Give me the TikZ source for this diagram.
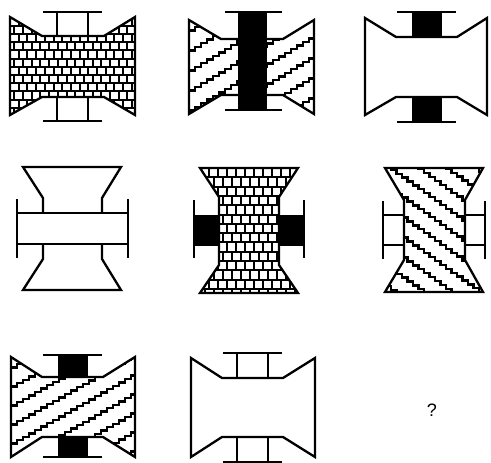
\documentclass[tikz,border=0pt]{standalone}
\usepackage{fontspec}
\setmainfont{Liberation Sans}
\tikzset{
  outline/.style={line width=2.3pt, line join=miter, miter limit=4},
  pat/.style={line width=2pt},
  spat/.style={line width=2.3pt, line join=miter},
  conn/.style={line width=2.3pt},
  blk/.style={fill=black},
}
% horizontal body: L,T,R,B,xl,xr,yt,yb
\newcommand\hclip[8]{\clip (#1,#2) -- (#5,#7) -- (#6,#7) -- (#3,#2) -- (#3,#4) -- (#6,#8) -- (#5,#8) -- (#1,#4) -- cycle;}
\newcommand\hdraw[8]{\draw[outline] (#1,#2) -- (#5,#7) -- (#6,#7) -- (#3,#2) -- (#3,#4) -- (#6,#8) -- (#5,#8) -- (#1,#4) -- cycle;}
% vertical body: L,T,R,B,xl,xr,yt,yb
\newcommand\vclip[8]{\clip (#1,#2) -- (#3,#2) -- (#6,#7) -- (#6,#8) -- (#3,#4) -- (#1,#4) -- (#5,#8) -- (#5,#7) -- cycle;}
\newcommand\vdraw[8]{\draw[outline] (#1,#2) -- (#3,#2) -- (#6,#7) -- (#6,#8) -- (#3,#4) -- (#1,#4) -- (#5,#8) -- (#5,#7) -- cycle;}
% bricks: x0,y0,px,py,nrows,ncols
\newcommand\bricks[6]{%
  \foreach \r in {0,...,#5}{%
    \draw[pat] (#1,{#2+\r*#4}) -- ++({(#6+1)*#3},0);
    \pgfmathsetmacro\off{mod(\r,2)*#3/2}
    \foreach \c in {-1,...,#6}{%
      \draw[pat] ({#1+\c*#3+\off},{#2+\r*#4}) -- ++(0,#4);
    }
  }%
}
% stairs: x0,y0,nlines,spacing,nsteps,h,v
\newcommand\stairs[7]{%
  \foreach \i in {0,...,#3}{%
    \draw[spat] (#1,{#2+\i*#4}) \foreach \k in {1,...,#5}{ -- ++(#6,0) -- ++(0,#7) };
  }%
}
\begin{document}
\begin{tikzpicture}[x=1pt,y=-1pt]
\useasboundingbox[fill=white] (0,0) rectangle (491,463);

% ---------- Panel 1: horizontal, bricks, white connectors
\begin{scope}
  \hclip{10}{17}{135}{115}{42}{104}{36}{97}
  \bricks{10}{17.5}{8.7}{8.2}{12}{15}
\end{scope}
\hdraw{10}{17}{135}{115}{42}{104}{36}{97}
\draw[conn] (43,12) -- (102,12);
\draw[conn] (57,12) -- (57,36) (88,12) -- (88,36);
\draw[conn] (43,121) -- (102,121);
\draw[conn] (57,97) -- (57,121) (88,97) -- (88,121);

% ---------- Panel 2: horizontal, stairs up, black bar through
\begin{scope}
  \hclip{189}{20}{314}{114}{221}{283}{39}{95}
  \stairs{183}{14}{10}{20}{22}{6}{-3.6}
\end{scope}
\hdraw{189}{20}{314}{114}{221}{283}{39}{95}
\fill[blk] (238,12) rectangle (267,110);
\draw[conn] (225,12) -- (282,12);
\draw[conn] (225,110) -- (282,110);

% ---------- Panel 3: horizontal, white, black connectors
\hdraw{365}{18}{487}{115}{396}{457}{37}{97}
\fill[blk] (412,12) rectangle (442,37);
\fill[blk] (412,97) rectangle (442,122);
\draw[conn] (397,12) -- (456,12);
\draw[conn] (397,122) -- (456,122);

% ---------- Panel 4: vertical, white, white connector through
\vdraw{23}{167}{121}{290}{43}{102}{198}{259}
\filldraw[conn,fill=white] (17,213) rectangle (128,244);
\draw[conn] (17,199) -- (17,258);
\draw[conn] (128,199) -- (128,258);

% ---------- Panel 5: vertical, bricks, black connectors
\begin{scope}
  \vclip{200}{168}{298}{293}{219}{279}{197}{265}
  \bricks{200}{168}{9}{9.3}{14}{11}
\end{scope}
\vdraw{200}{168}{298}{293}{219}{279}{197}{265}
\fill[blk] (194,215) rectangle (219,246);
\fill[blk] (279,215) rectangle (304,246);
\draw[conn] (194,200) -- (194,258);
\draw[conn] (304,200) -- (304,258);

% ---------- Panel 6: vertical, stairs down, white connectors
\begin{scope}
  \vclip{385}{168}{483}{292}{404}{465}{200}{260}
  \stairs{380}{82}{11}{20}{20}{5.5}{3.9}
\end{scope}
\vdraw{385}{168}{483}{292}{404}{465}{200}{260}
\draw[conn] (383,201) -- (383,259);
\draw[conn] (485,201) -- (485,259);
\draw[conn] (383,215) -- (404,215) (383,245) -- (404,245);
\draw[conn] (465,215) -- (485,215) (465,245) -- (485,245);

% ---------- Panel 7: horizontal, stairs up, black connectors
\begin{scope}
  \hclip{11}{357}{135}{457}{42}{103}{377}{437}
  \stairs{5}{352}{9}{19}{22}{6}{-3.4}
\end{scope}
\hdraw{11}{357}{135}{457}{42}{103}{377}{437}
\fill[blk] (58,355) rectangle (88,377);
\fill[blk] (58,437) rectangle (88,457);
\draw[conn] (43,355) -- (102,355);
\draw[conn] (43,457) -- (102,457);

% ---------- Panel 8: horizontal, white, white connectors
\hdraw{191}{358}{315}{457}{222}{283}{378}{437}
\draw[conn] (223,353) -- (282,353);
\draw[conn] (237,353) -- (237,378) (268,353) -- (268,378);
\draw[conn] (223,462) -- (282,462);
\draw[conn] (237,437) -- (237,462) (268,437) -- (268,462);

% ---------- Question mark
\node[font=\fontsize{18}{18}\selectfont, inner sep=0pt] (q) at (432,410) {?};
\end{tikzpicture}
\end{document}
